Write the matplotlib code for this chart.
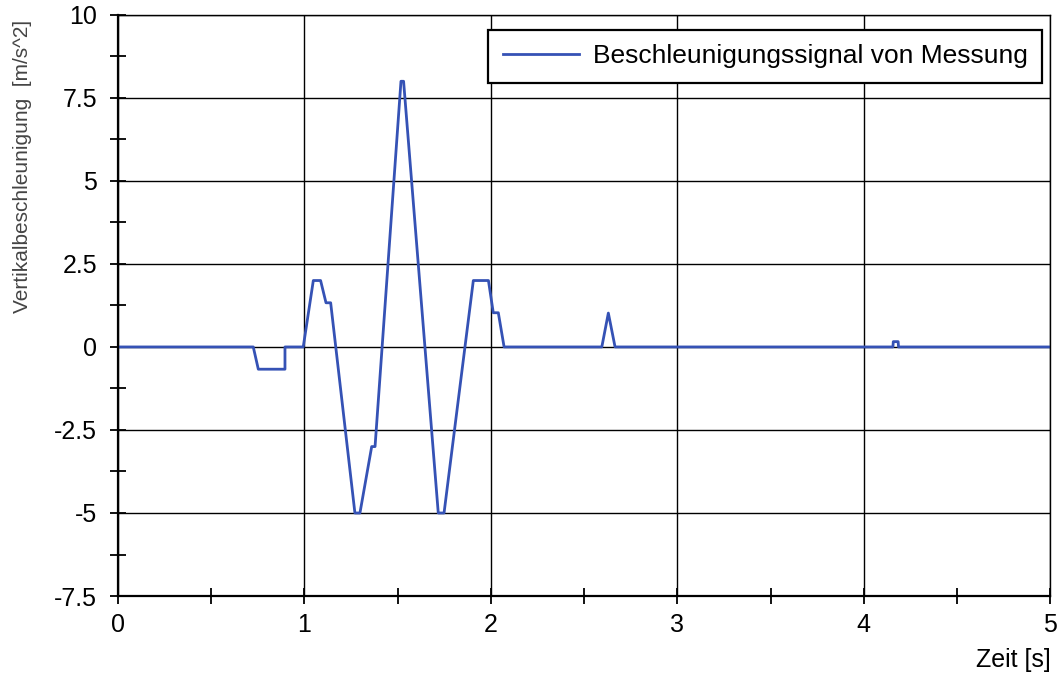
import numpy as np
import matplotlib.pyplot as plt
from matplotlib.ticker import MultipleLocator

# Messsignal (Stuetzpunkte)
zeit = [0.0, 0.726, 0.753, 0.896, 0.896, 0.994, 1.048, 1.087, 1.116, 1.141,
        1.271, 1.298, 1.361, 1.379, 1.518, 1.532, 1.718, 1.749, 1.906, 1.987,
        2.013, 2.040, 2.071, 2.595, 2.630, 2.666, 4.156, 4.158, 4.184, 4.186,
        5.0]
beschl = [0.0, 0.0, -0.67, -0.67, 0.0, 0.0, 2.0, 2.0, 1.33, 1.33,
          -5.0, -5.0, -3.0, -3.0, 8.0, 8.0, -5.0, -5.0, 2.0, 2.0,
          1.03, 1.03, 0.0, 0.0, 1.02, 0.0, 0.0, 0.16, 0.16, 0.0,
          0.0]

xticks = [0, 1, 2, 3, 4, 5]
yticks = [-7.5, -5, -2.5, 0, 2.5, 5, 7.5, 10]
ytick_labels = ["-7.5", "-5", "-2.5", "0", "2.5", "5", "7.5", "10"]

plt.rcParams['font.family'] = ['Liberation Sans', 'DejaVu Sans']
plt.rcParams['axes.unicode_minus'] = False

fig = plt.figure(figsize=(10.62, 6.75), dpi=100)
ax = fig.add_axes([0.111, 0.117, 0.878, 0.861])

ax.plot(zeit, beschl, color='#3552b5', linewidth=2.0,
        label='Beschleunigungssignal von Messung')

ax.set_xlim(0, 5)
ax.set_ylim(-7.5, 10)
ax.set_xticks(xticks)
ax.set_yticks(yticks)
ax.set_yticklabels(ytick_labels)
ax.xaxis.set_minor_locator(MultipleLocator(0.5))
ax.yaxis.set_minor_locator(MultipleLocator(1.25))

ax.tick_params(which='both', direction='inout', length=12, width=1.3,
               labelsize=18, color='black')
ax.tick_params(axis='x', pad=6)
ax.tick_params(axis='y', pad=9)
ax.grid(True, which='major', color='black', linewidth=1.0)

for s in ax.spines.values():
  s.set_linewidth(1.0)
ax.spines['left'].set_linewidth(1.6)
ax.spines['bottom'].set_linewidth(1.6)

ax.set_xlabel('Zeit [s]', fontsize=18, loc='right', labelpad=8)
ax.set_ylabel('Vertikalbeschleunigung  [m/s^2]', fontsize=15, loc='top',
              color='#444444')
ax.yaxis.set_label_coords(-0.092, 0.991)

leg = ax.legend(loc='upper right', fontsize=19, fancybox=False,
                framealpha=1, edgecolor='black', handlelength=2.9,
                handletextpad=0.5, borderpad=0.55, borderaxespad=0,
                bbox_to_anchor=(0.991, 0.974))
leg.get_frame().set_linewidth(1.6)

fig.savefig('out.png', dpi=100)
